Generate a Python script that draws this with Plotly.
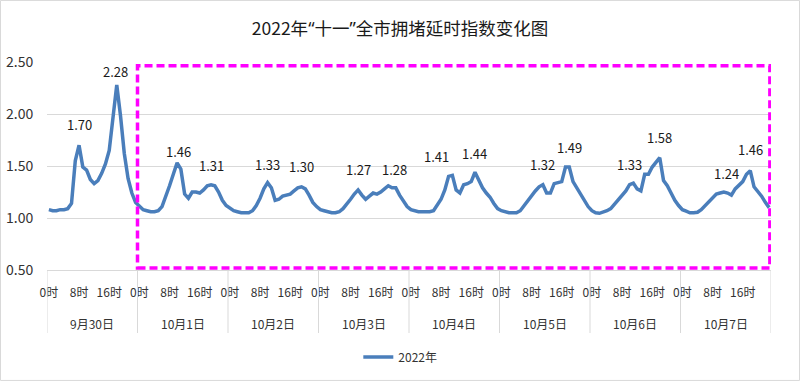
import plotly.graph_objects as go

# ---------------- data (hourly congestion delay index) ----------------
day_labels = ["9月30日", "10月1日", "10月2日", "10月3日", "10月4日", "10月5日", "10月6日", "10月7日"]
hour_tick_labels = ["0时", "8时", "16时"]
hour_tick_step = 8
hours_per_day = 24

d0930 = [1.08, 1.07, 1.07, 1.08, 1.08, 1.09, 1.14, 1.55, 1.70, 1.49, 1.46, 1.37,
         1.33, 1.36, 1.43, 1.52, 1.65, 1.98, 2.28, 1.98, 1.62, 1.38, 1.24, 1.15]
d1001 = [1.11, 1.08, 1.07, 1.06, 1.06, 1.07, 1.11, 1.20, 1.31, 1.42, 1.53, 1.47,
         1.23, 1.19, 1.25, 1.25, 1.24, 1.27, 1.31, 1.32, 1.31, 1.25, 1.17, 1.12]
d1002 = [1.09, 1.07, 1.06, 1.05, 1.05, 1.05, 1.07, 1.12, 1.19, 1.28, 1.34, 1.29,
         1.17, 1.18, 1.21, 1.22, 1.23, 1.26, 1.29, 1.30, 1.28, 1.22, 1.15, 1.11]
d1003 = [1.08, 1.07, 1.06, 1.05, 1.05, 1.06, 1.09, 1.13, 1.18, 1.23, 1.27, 1.22,
         1.18, 1.21, 1.24, 1.23, 1.25, 1.28, 1.31, 1.29, 1.29, 1.22, 1.16, 1.11]
d1004 = [1.08, 1.07, 1.06, 1.06, 1.06, 1.06, 1.07, 1.12, 1.18, 1.27, 1.40, 1.41,
         1.27, 1.24, 1.32, 1.33, 1.35, 1.44, 1.36, 1.29, 1.24, 1.20, 1.14, 1.09]
d1005 = [1.07, 1.06, 1.05, 1.05, 1.05, 1.07, 1.12, 1.17, 1.21, 1.26, 1.30, 1.32,
         1.24, 1.24, 1.33, 1.34, 1.35, 1.49, 1.49, 1.35, 1.29, 1.24, 1.18, 1.11]
d1006 = [1.07, 1.05, 1.045, 1.055, 1.07, 1.09, 1.13, 1.18, 1.22, 1.26, 1.32, 1.335,
         1.28, 1.26, 1.42, 1.42, 1.49, 1.53, 1.58, 1.36, 1.31, 1.24, 1.17, 1.12]
d1007 = [1.08, 1.065, 1.05, 1.05, 1.055, 1.08, 1.12, 1.16, 1.20, 1.23, 1.24, 1.25,
         1.24, 1.22, 1.28, 1.31, 1.35, 1.42, 1.455, 1.30, 1.26, 1.21, 1.15, 1.10]

series_name = "2022年"
LATIN_Q = '<span style="font-family:Noto Sans">{}</span>'
title_text = "2022年" + LATIN_Q.format("“") + "十一" + LATIN_Q.format("”") + "全市拥堵延时指数变化图"

# data labels: index of the hour the label belongs to, and its text
label_idx = [8, 18, 34, 43, 58, 67, 82, 90, 106, 113, 131, 137, 155, 162, 179, 186]
label_text = ["1.70", "2.28", "1.46", "1.31", "1.33", "1.30", "1.27", "1.28",
              "1.41", "1.44", "1.32", "1.49", "1.33", "1.58", "1.24", "1.46"]
# pixel offsets of the label text from its point (styling)
label_xshift = [0, -1, 1, 0, 0, 0, 0, 6, -12, 0, 0, 4, -4, 0, 3, 0]
label_yshift = [21, 13, 11, 19, 18, 20, 20, 16, 20, 19, 20, 20, 19, 20, 19, 21]

values = d0930 + d1001 + d1002 + d1003 + d1004 + d1005 + d1006 + d1007
x_idx = list(range(len(values)))
n_days = len(day_labels)

# ---------------- figure ----------------
FONT = "Noto Sans CJK SC, Noto Sans, sans-serif"
GRID = "#d9d9d9"
TXT = "#333333"

fig = go.Figure()
fig.add_trace(go.Scatter(
    x=x_idx, y=values, mode="lines", name=series_name,
    line=dict(color="#4a7ebb", width=3.5, shape="linear"),
    hoverinfo="x+y",
))

tickvals = [i for i in x_idx if i % hour_tick_step == 0]
ticktext = [hour_tick_labels[(i % hours_per_day) // hour_tick_step] for i in tickvals]

fig.update_xaxes(
    range=[-0.5, len(values) - 0.5], automargin=False,
    tickmode="array", tickvals=tickvals, ticktext=ticktext,
    ticks="outside", ticklen=12, tickcolor="rgba(0,0,0,0)",
    tickfont=dict(family=FONT, size=12, color=TXT),
    showgrid=False, zeroline=False,
    showline=True, linecolor=GRID, linewidth=1,
)
fig.update_yaxes(
    range=[0.5, 2.5], automargin=False,
    tickmode="array", tickvals=[0.5, 1.0, 1.5, 2.0, 2.5],
    tickformat=".2f",
    ticks="outside", ticklen=10, tickcolor="rgba(0,0,0,0)",
    tickfont=dict(family=FONT, size=14, color=TXT),
    showgrid=True, gridcolor=GRID, gridwidth=1,
    zeroline=False, showline=False,
)

shapes = []
# day separators in the category axis area
for d in range(n_days + 1):
    xb = d * hours_per_day - 0.5
    shapes.append(dict(type="line", xref="x", yref="paper", x0=xb, x1=xb,
                       y0=0, y1=-0.303, line=dict(color=GRID, width=1)))
# magenta dashed highlight box (10月1日 - 10月7日)
shapes.append(dict(type="rect", xref="x", yref="y",
                   x0=hours_per_day - 0.5, x1=len(values) - 0.8, y0=0.52, y1=2.465,
                   line=dict(color="#ff00ff", width=3.5, dash="8px,4px")))
# outer chart border
shapes.append(dict(type="rect", xref="paper", yref="paper",
                   x0=-0.0642, x1=1.0394, y0=-0.531, y1=1.296,
                   line=dict(color=GRID, width=1)))

annotations = []
for d, lab in enumerate(day_labels):
    annotations.append(dict(x=d * hours_per_day + (hours_per_day - 1) / 2, y=-0.255,
                            xref="x", yref="paper", text=lab, showarrow=False,
                            font=dict(family=FONT, size=12, color=TXT),
                            xanchor="center", yanchor="middle"))
for i, t, xs, ys in zip(label_idx, label_text, label_xshift, label_yshift):
    annotations.append(dict(x=i, y=values[i], xref="x", yref="y", text=t,
                            showarrow=False, xshift=xs, yshift=ys,
                            font=dict(family=FONT, size=13, color="#1a1a1a"),
                            xanchor="center", yanchor="middle"))

fig.update_layout(
    width=800, height=382,
    margin=dict(l=47, r=29, t=62, b=112, autoexpand=False),
    paper_bgcolor="white", plot_bgcolor="white",
    title=dict(text=title_text, x=0.5, xanchor="center", y=1 - 29 / 382, yanchor="middle",
               font=dict(family=FONT, size=17.5, color="#1a1a1a")),
    showlegend=True,
    legend=dict(orientation="h", x=0.488, xanchor="center", y=-0.418, yanchor="middle",
                font=dict(family=FONT, size=12, color=TXT), bgcolor="rgba(0,0,0,0)"),
    shapes=shapes, annotations=annotations,
    font=dict(family=FONT),
)

fig.write_html("out.html", config={"displayModeBar": False},
               post_script="document.body.style.margin='0';")
